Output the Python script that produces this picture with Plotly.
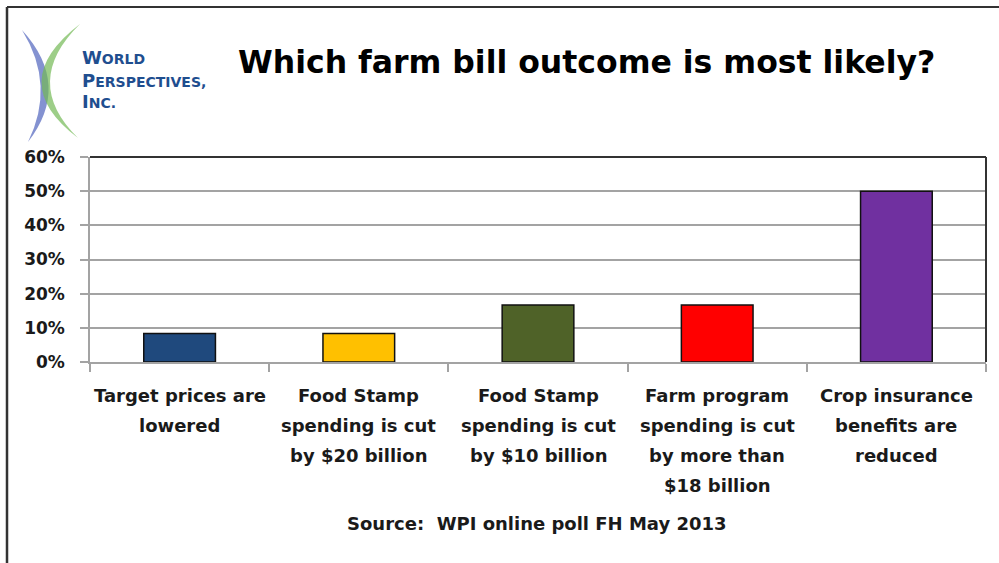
import plotly.graph_objects as go

# Poll results
categories = [
    "Target prices are lowered",
    "Food Stamp spending is cut by $20 billion",
    "Food Stamp spending is cut by $10 billion",
    "Farm program spending is cut by more than $18 billion",
    "Crop insurance benefits are reduced",
]
label_lines = [
    ["Target prices are", "lowered"],
    ["Food Stamp", "spending is cut", "by $20 billion"],
    ["Food Stamp", "spending is cut", "by $10 billion"],
    ["Farm program", "spending is cut", "by more than", "$18 billion"],
    ["Crop insurance", "benefits are", "reduced"],
]
shares = [1 / 12, 1 / 12, 2 / 12, 2 / 12, 6 / 12]
bar_colors = ["#1F497D", "#FFC000", "#4F6228", "#FF0000", "#7030A0"]

title_text = "Which farm bill outcome is most likely?"
source_text = "Source:  WPI online poll FH May 2013"

W, H = 999, 563
L, R, T, B = 90, 13, 157, 201
PW, PH = W - L - R, H - T - B

FONT = "DejaVu Sans"
INK = "#1a1a1a"
GRID = "#a3a3a3"


def px(x):
    """Pixel column -> paper x."""
    return (x - L) / PW


def py(y):
    """Pixel row -> paper y."""
    return (H - B - y) / PH


fig = go.Figure(
    go.Bar(
        x=categories,
        y=shares,
        width=0.4,
        marker=dict(color=bar_colors, line=dict(color="#111111", width=1.5)),
        hovertemplate="%{x}<br>%{y:.0%}<extra></extra>",
    )
)

annotations = []
# multi-line category labels under each bar
for cat, lines in zip(categories, label_lines):
    for i, line in enumerate(lines):
        annotations.append(dict(
            x=cat, xref="x", y=0, yref="paper", yanchor="middle",
            yshift=-(33 + 30 * i), text="<b>%s</b>" % line, showarrow=False,
            font=dict(family=FONT, size=18, color=INK),
        ))

annotations.append(dict(
    x=px(586), xref="paper", y=py(62), yref="paper", yanchor="middle",
    text="<b>%s</b>" % title_text, showarrow=False,
    font=dict(family=FONT, size=31.5, color="#000000"),
))
annotations.append(dict(
    x=px(537), xref="paper", y=py(523), yref="paper", yanchor="middle",
    text="<b>%s</b>" % source_text, showarrow=False,
    font=dict(family=FONT, size=18, color=INK),
))

# company logo wordmark (small caps)
LOGO_BLUE = "#1F4E8F"
for row, (cap, rest) in zip([57, 80, 101], [("W", "ORLD"), ("P", "ERSPECTIVES,"), ("I", "NC.")]):
    annotations.append(dict(
        x=px(80), xref="paper", xanchor="left", y=py(row), yref="paper", yanchor="middle",
        text="<b>%s<span style='font-size:14px'>%s</span></b>" % (cap, rest), showarrow=False,
        font=dict(family=FONT, size=18, color=LOGO_BLUE),
    ))


def crescent(p0, p1, c_out, c_in):
    """Closed path of two quadratic curves between p0 and p1 (pixel coords)."""
    f = lambda p: "%.4f,%.4f" % (px(p[0]), py(p[1]))
    return "M %s Q %s %s Q %s %s Z" % (f(p0), f(c_out), f(p1), f(c_in), f(p0))


shapes = [
    # logo arcs
    dict(type="path", xref="paper", yref="paper",
         path=crescent((22, 30), (28, 142), (72, 85), (56, 85)),
         fillcolor="rgba(80,100,190,0.7)", line=dict(width=0)),
    dict(type="path", xref="paper", yref="paper",
         path=crescent((80, 24), (78, 138), (4, 82), (21, 82)),
         fillcolor="rgba(115,185,85,0.7)", line=dict(width=0)),
    # dark frame on top and right of plot area
    dict(type="line", xref="paper", yref="paper", x0=0, x1=1, y0=1, y1=1,
         line=dict(color="#333333", width=2)),
    dict(type="line", xref="paper", yref="paper", x0=1, x1=1, y0=0, y1=1,
         line=dict(color="#333333", width=2)),
    # outer chart border (top and left)
    dict(type="line", xref="paper", yref="paper", x0=px(7), x1=px(999), y0=py(7), y1=py(7),
         line=dict(color="#333333", width=2)),
    dict(type="line", xref="paper", yref="paper", x0=px(7), x1=px(7), y0=py(7), y1=py(563),
         line=dict(color="#333333", width=2.5)),
]

fig.update_layout(
    width=W, height=H,
    margin=dict(l=L, r=R, t=T, b=B),
    paper_bgcolor="white", plot_bgcolor="white",
    showlegend=False,
    annotations=annotations,
    shapes=shapes,
    bargap=0.6,
)
fig.update_xaxes(
    showticklabels=False, showgrid=False,
    showline=True, linecolor=GRID, linewidth=1.5,
    ticks="outside", tickson="boundaries", ticklen=8, tickcolor=GRID, tickwidth=1.5,
)
fig.update_yaxes(
    range=[0, 0.6], dtick=0.1, tickformat=".0%",
    showgrid=True, gridcolor=GRID, gridwidth=1.5,
    showline=True, linecolor=GRID, linewidth=1.5,
    ticks="outside", ticklen=8, tickcolor=GRID, tickwidth=1.5,
    ticklabelstandoff=12,
    tickfont=dict(family=FONT, size=17, color=INK, weight="bold"),
    zeroline=False,
)

fig.write_html("out.html")
